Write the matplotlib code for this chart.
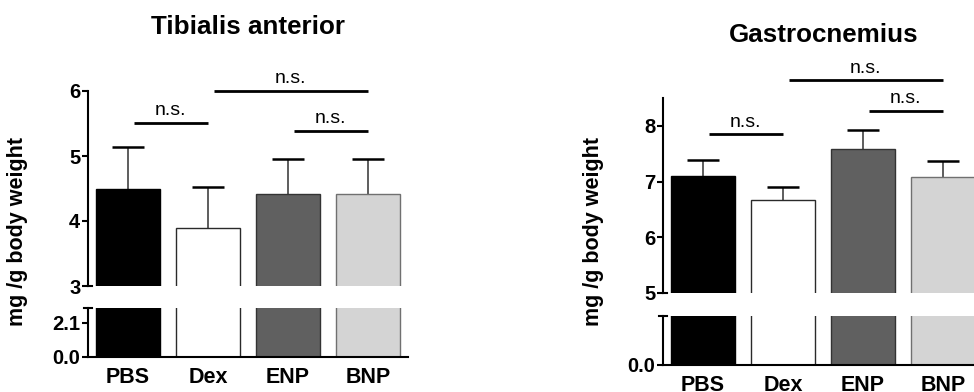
import matplotlib
matplotlib.use("Agg")
import matplotlib.pyplot as plt
import numpy as np

plt.rcParams['font.family'] = ['Liberation Sans', 'DejaVu Sans']

categories = ["PBS", "Dex", "ENP", "BNP"]
bar_colors = ["#000000", "#ffffff", "#606060", "#d4d4d4"]
edge_colors = ["#000000", "#2a2a2a", "#333333", "#707070"]

ta_title = "Tibialis anterior"
ta_means = [4.50, 3.89, 4.42, 4.41]
ta_errs = [0.64, 0.64, 0.53, 0.55]
ta_upper_ylim = (3, 6)
ta_upper_ticks = [3, 4, 5, 6]
ta_lower_ylim = (0, 3)
ta_lower_ticks = [0.0, 2.1]
ta_lower_ticklabels = ["0.0", "2.1"]
ta_brackets = [(0, 1, 5.51), (1, 3, 6.0), (2, 3, 5.39)]

ga_title = "Gastrocnemius"
ga_means = [7.10, 6.67, 7.59, 7.08]
ga_errs = [0.29, 0.23, 0.34, 0.29]
ga_upper_ylim = (5, 8.5)
ga_upper_ticks = [5, 6, 7, 8]
ga_lower_ylim = (0, 3)
ga_lower_ticks = [0.0]
ga_lower_ticklabels = ["0.0"]
ga_brackets = [(0, 1, 7.85), (1, 3, 8.82), (2, 3, 8.27)]

ylabel = "mg /g body weight"
sig_text = "n.s."

W, H = 974, 392
fig = plt.figure(figsize=(W / 100, H / 100), dpi=100)

LW = 1.5
TICK_FS = 14.5
XTICK_FS = 15.5


def px_axes(x0, x1, ytop, ybot):
    return fig.add_axes([x0 / W, (H - ybot) / H, (x1 - x0) / W, (ybot - ytop) / H])


def draw_panel(x0, up_top, up_bot, lo_top, lo_bot, means, errs, uylim, uticks,
               lylim, lticks, lticklabels, brackets, title, title_y, ylab_x):
    x = np.arange(len(categories))
    axu = px_axes(x0, x0 + 320, up_top, up_bot)
    axl = px_axes(x0, x0 + 320, lo_top, lo_bot)
    for ax in (axu, axl):
        ax.bar(x, means, width=0.8, color=bar_colors, edgecolor=edge_colors,
               linewidth=1.0, zorder=2)
        ax.set_xlim(-0.5, 3.5)
        for s in ("top", "right"):
            ax.spines[s].set_visible(False)
        ax.spines["left"].set_linewidth(LW)
        ax.tick_params(axis="y", direction="out", length=4.5, width=LW,
                       labelsize=TICK_FS, pad=1.0)
        ax.patch.set_alpha(0)
    # upper
    axu.set_ylim(*uylim)
    axu.set_yticks(uticks)
    axu.set_yticklabels([str(t) for t in uticks], fontweight="bold")
    axu.spines["bottom"].set_visible(False)
    axu.set_xticks([])
    upper = np.array(means) + np.array(errs)
    axu.vlines(x, means, upper, color="#505050", linewidth=1.3, zorder=1)
    axu.hlines(upper, x - 0.2, x + 0.2, color="black", linewidth=1.8, zorder=3)
    axu.plot([0, 0.012], [0, 0], transform=axu.transAxes, color="black",
             linewidth=LW, clip_on=False)
    for i, j, y in brackets:
        axu.plot([i + 0.07, j], [y, y], color="black", linewidth=2.0,
                 clip_on=False, solid_capstyle="butt")
        axu.annotate(sig_text, xy=((i + 0.07 + j) / 2, y), xytext=(0, 5.5),
                     textcoords="offset points", ha="center", va="baseline",
                     fontsize=14, annotation_clip=False)
    # lower
    axl.set_ylim(*lylim)
    axl.set_yticks(lticks)
    axl.set_yticklabels(lticklabels, fontweight="bold")
    axl.spines["bottom"].set_linewidth(LW)
    axl.set_xticks(x)
    axl.set_xticklabels(categories, fontweight="bold", fontsize=XTICK_FS)
    axl.tick_params(axis="x", length=0, pad=7)
    axl.plot([-0.012, 0.012], [1, 1], transform=axl.transAxes, color="black",
             linewidth=LW, clip_on=False)
    # title / ylabel
    cx = (x0 + 40 + x0 + 40 + 3 * 80.3) / 2
    fig.text(cx / W, 1 - title_y / H, title, ha="center", va="center",
             fontsize=18.7, fontweight="bold")
    fig.text(ylab_x / W, 1 - 232 / H, ylabel, ha="center", va="center",
             rotation=90, fontsize=15.5, fontweight="bold")


draw_panel(88, 91, 286, 308, 357, ta_means, ta_errs, ta_upper_ylim, ta_upper_ticks,
           ta_lower_ylim, ta_lower_ticks, ta_lower_ticklabels, ta_brackets,
           ta_title, 27, 18)
draw_panel(663, 98, 293, 316, 365, ga_means, ga_errs, ga_upper_ylim, ga_upper_ticks,
           ga_lower_ylim, ga_lower_ticks, ga_lower_ticklabels, ga_brackets,
           ga_title, 35, 593)

fig.savefig("out.png", dpi=100)
